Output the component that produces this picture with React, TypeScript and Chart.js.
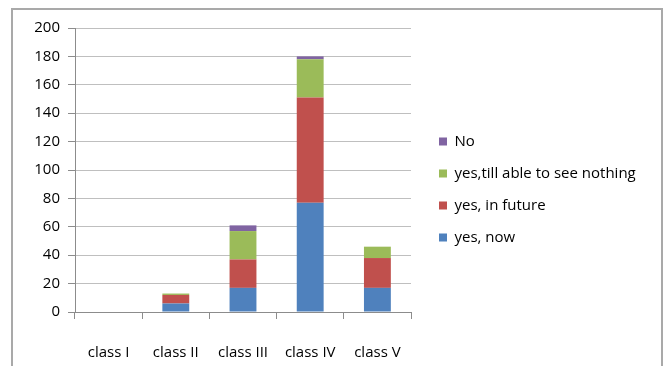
import React, { useEffect, useRef } from "react";
import { Chart, registerables } from "chart.js";

Chart.register(...registerables);

const categories = ["class I", "class II", "class III", "class IV", "class V"];
const yesNow = [0, 6, 17, 77, 17];
const yesFuture = [0, 6, 20, 74, 21];
const yesTill = [0, 1, 20, 27, 8];
const noValues = [0, 0, 4, 2, 0];
const seriesNames = ["yes, now", "yes, in future", "yes,till able to see nothing", "No"];
const yMin = 0;
const yMax = 200;
const yStep = 20;

const FONT = "'Open Sans', 'Noto Sans', sans-serif";

const legendPlacer = {
  id: "legendPlacer",
  afterLayout(chart: any) {
    const lg = chart.legend;
    if (!lg) return;
    const w = lg.width;
    const h = lg.height;
    lg.left = 422;
    lg.right = 422 + w;
    lg.top = 117;
    lg.bottom = 117 + h;
  },
};

export default function App() {
  const ref = useRef<HTMLCanvasElement | null>(null);

  useEffect(() => {
    if (!ref.current) return;
    const chart = new Chart(ref.current, {
      type: "bar",
      data: {
        labels: categories,
        datasets: [
          { label: seriesNames[0], data: yesNow, backgroundColor: "#4F81BD" },
          { label: seriesNames[1], data: yesFuture, backgroundColor: "#C0504D" },
          { label: seriesNames[2], data: yesTill, backgroundColor: "#9BBB59" },
          { label: seriesNames[3], data: noValues, backgroundColor: "#8064A2" },
        ],
      },
      options: {
        animation: false,
        responsive: false,
        maintainAspectRatio: false,
        devicePixelRatio: 1,
        layout: { padding: { left: 0, top: 28, right: 252, bottom: 0 } },
        datasets: {
          bar: { categoryPercentage: 1, barPercentage: 0.4, borderWidth: 0 },
        },
        scales: {
          x: {
            stacked: true,
            afterFit: (s: any) => {
              s.height = 54;
            },
            grid: {
              display: true,
              drawOnChartArea: false,
              drawTicks: true,
              tickLength: 7,
              tickColor: "#8c8c8c",
              offset: true,
            },
            border: { display: true, color: "#8c8c8c", width: 1 },
            ticks: {
              padding: 25,
              color: "#000",
              font: { family: FONT, size: 15 },
              maxRotation: 0,
            },
          },
          y: {
            stacked: true,
            min: yMin,
            max: yMax,
            afterFit: (s: any) => {
              s.width = 75;
            },
            grid: {
              color: "#bfbfbf",
              lineWidth: 1,
              drawTicks: true,
              tickLength: 7,
              tickColor: "#8c8c8c",
            },
            border: { display: true, color: "#8c8c8c", width: 1 },
            ticks: {
              stepSize: yStep,
              padding: 8,
              color: "#000",
              font: { family: FONT, size: 15 },
            },
          },
        },
        plugins: {
          tooltip: { enabled: false },
          title: { display: false },
          legend: {
            display: true,
            position: "chartArea",
            align: "start",
            reverse: true,
            labels: {
              boxWidth: 8,
              boxHeight: 8,
              padding: 17,
              color: "#000",
              font: { family: FONT, size: 15 },
            },
          },
        },
      },
      plugins: [legendPlacer],
    } as any);
    return () => chart.destroy();
  }, []);

  return (
    <div
      style={{
        position: "fixed",
        left: 0,
        top: 0,
        width: 663,
        height: 366,
        background: "#fff",
        overflow: "hidden",
      }}
    >
      <div
        style={{
          position: "absolute",
          left: 11,
          top: 8,
          width: 648,
          height: 400,
          borderLeft: "2px solid #a9a9a9",
          borderTop: "2px solid #a9a9a9",
          borderRight: "2px solid #a9a9a9",
        }}
      />
      <canvas
        ref={ref}
        width={663}
        height={366}
        style={{ position: "absolute", left: 0, top: 0, width: 663, height: 366 }}
      />
    </div>
  );
}
